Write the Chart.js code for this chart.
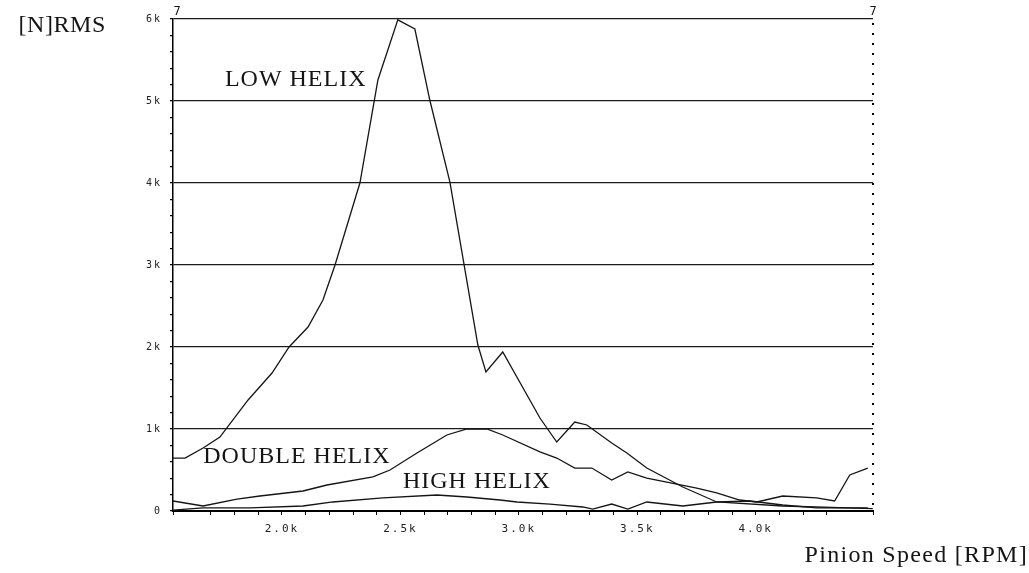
<!DOCTYPE html>
<html>
<head>
<meta charset="utf-8">
<script src="https://cdn.jsdelivr.net/npm/chart.js@4/dist/chart.umd.min.js"></script>
<style>
  html, body { margin: 0; padding: 0; background: #fff; }
  #wrap { width: 1029px; height: 573px; position: relative; }
</style>
</head>
<body>
<div id="wrap"><canvas id="myChart"></canvas></div>
<script>
// pinion speed (rpm) and dynamic force (N rms) for each helix type
const lowRpm = [1540, 1591, 1667, 1738, 1857, 1958, 2030, 2110, 2173, 2224, 2329, 2405, 2489, 2561, 2624, 2709, 2827, 2861, 2932, 3089, 3160, 3236, 3287, 3392, 3456, 3540, 3692, 3835, 4114, 4494];
const lowVals = [646, 646, 768, 902, 1354, 1683, 2000, 2244, 2573, 3000, 4000, 5256, 5990, 5878, 5012, 4012, 2024, 1695, 1939, 1134, 841, 1085, 1049, 829, 707, 524, 293, 110, 61, 30];

const doubleRpm = [1540, 1667, 1810, 1907, 2089, 2190, 2384, 2456, 2570, 2696, 2781, 2865, 2932, 3089, 3160, 3236, 3308, 3392, 3460, 3540, 3751, 3835, 3932, 4004, 4114, 4257, 4333, 4397, 4473];
const doubleVals = [122, 61, 146, 183, 244, 317, 415, 500, 707, 927, 1000, 1000, 927, 720, 646, 524, 524, 378, 476, 402, 280, 220, 134, 110, 183, 159, 122, 439, 524];

const highRpm = [1540, 1667, 1865, 2089, 2215, 2426, 2654, 2781, 2920, 2992, 3131, 3270, 3312, 3392, 3460, 3540, 3692, 3835, 3975, 4114, 4257, 4473];
const highVals = [10, 37, 37, 61, 110, 159, 195, 171, 134, 110, 85, 49, 24, 85, 24, 110, 61, 110, 122, 73, 37, 37];

const yMajor = ['0', '1k', '2k', '3k', '4k', '5k', '6k'];

// curve labels: [text, rpm, value] at the label centre
const curveLabels = [
  ['LOW HELIX', 2058, 5256],
  ['DOUBLE HELIX', 2063, 659],
  ['HIGH HELIX', 2823, 354]
];

function toPoints(xs, ys) {
  return xs.map((x, i) => ({ x: x, y: ys[i] }));
}

function lineSet(label, xs, ys) {
  return {
    label: label,
    data: toPoints(xs, ys),
    borderColor: '#151515',
    borderWidth: 1.3,
    pointRadius: 0,
    tension: 0,
    fill: false
  };
}

// plotter style tick text is spaced out
const spacingPlugin = {
  id: 'spacingPlugin',
  beforeDraw(chart) { chart.ctx.letterSpacing = '2px'; },
  afterDraw(chart) { chart.ctx.letterSpacing = '0px'; }
};

const textPlugin = {
  id: 'textPlugin',
  afterDraw(chart) {
    const c = chart.ctx;
    const xs = chart.scales.x, ys = chart.scales.y;
    const area = chart.chartArea;
    c.save();
    // dotted right edge of the frame
    c.strokeStyle = '#000';
    c.lineWidth = 2;
    c.setLineDash([2, 8]);
    c.beginPath();
    c.moveTo(area.right, area.top + 4);
    c.lineTo(area.right, area.bottom);
    c.stroke();
    c.setLineDash([]);

    c.fillStyle = '#151515';
    c.textAlign = 'center';
    c.textBaseline = 'middle';
    c.letterSpacing = '1px';
    c.font = '24px "Liberation Serif"';
    curveLabels.forEach(l => {
      c.fillText(l[0], xs.getPixelForValue(l[1]), ys.getPixelForValue(l[2]));
    });
    // axis titles
    c.textBaseline = 'alphabetic';
    c.textAlign = 'right';
    c.font = '24px "Liberation Serif"';
    c.letterSpacing = '0.6px';
    c.fillText('[N]RMS', 106, 32);
    c.letterSpacing = '1.3px';
    c.fillText('Pinion Speed [RPM]', 1028, 562);
    // corner marks of the plotter frame
    c.letterSpacing = '0px';
    c.font = '12px "DejaVu Sans Mono"';
    c.textAlign = 'center';
    c.textBaseline = 'middle';
    c.fillText('7', area.left + 4, area.top - 7);
    c.fillText('7', area.right, area.top - 7);
    c.restore();
  }
};

const ctx = document.getElementById('myChart');

new Chart(ctx, {
  type: 'line',
  data: {
    datasets: [
      lineSet('Low helix', lowRpm, lowVals),
      lineSet('Double helix', doubleRpm, doubleVals),
      lineSet('High helix', highRpm, highVals)
    ]
  },
  options: {
    responsive: true,
    maintainAspectRatio: false,
    animation: false,
    layout: { padding: { left: 0, right: 156, top: 19, bottom: 0 } },
    plugins: {
      legend: { display: false },
      tooltip: { enabled: false }
    },
    scales: {
      x: {
        type: 'linear',
        min: 1540,
        max: 4495,
        afterFit: s => { s.height = 62; },
        border: { color: '#000', width: 2 },
        grid: { drawOnChartArea: false, tickColor: '#000', tickLength: 4, lineWidth: 1 },
        ticks: {
          stepSize: 100,
          autoSkip: false,
          maxRotation: 0,
          padding: 8,
          color: '#222',
          font: { family: 'DejaVu Sans Mono', size: 11 },
          callback: v => (v % 500 === 0 ? (v / 1000).toFixed(1) + 'k' : '')
        }
      },
      y: {
        min: 0,
        max: 6000,
        afterFit: s => { s.width = 173; },
        border: { color: '#000', width: 1.5 },
        grid: {
          color: c => (c.tick && c.tick.value % 1000 === 0 ? '#1c1c1c' : 'rgba(0,0,0,0)'),
          tickColor: '#000',
          tickLength: 3,
          lineWidth: 1.3
        },
        ticks: {
          stepSize: 200,
          autoSkip: false,
          padding: 8,
          color: '#222',
          font: { family: 'DejaVu Sans Mono', size: 10 },
          callback: v => (v % 1000 === 0 ? yMajor[v / 1000] : '')
        }
      }
    }
  },
  plugins: [spacingPlugin, textPlugin]
});
</script>
</body>
</html>
